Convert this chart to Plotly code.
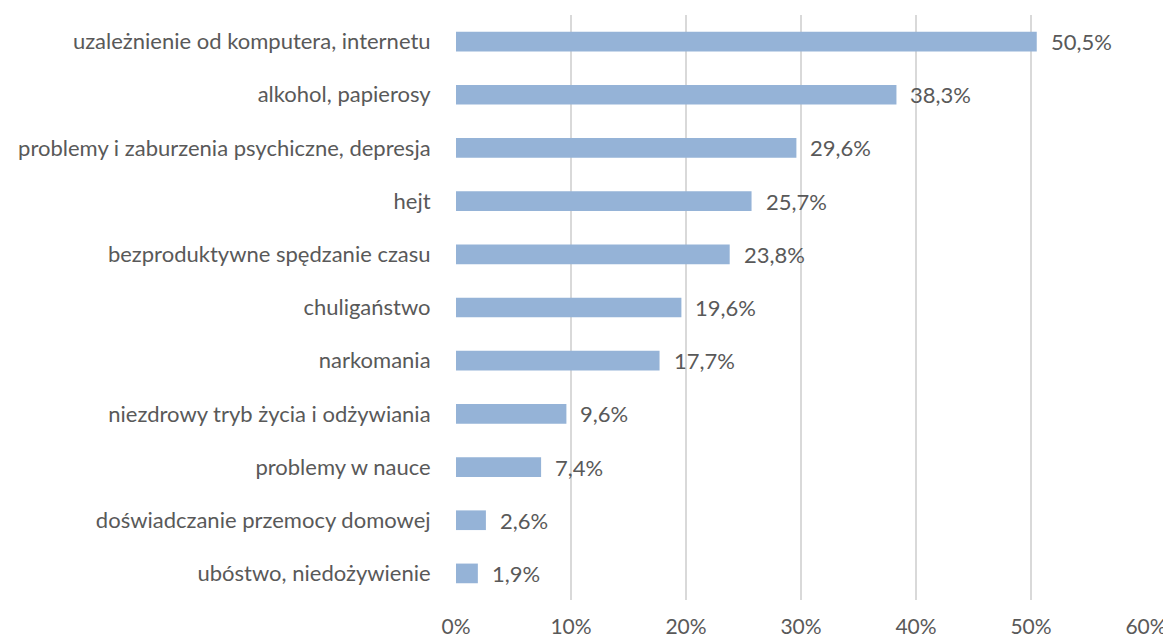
import plotly.graph_objects as go

categories = [
    "uzależnienie od komputera, internetu",
    "alkohol, papierosy",
    "problemy i zaburzenia psychiczne, depresja",
    "hejt",
    "bezproduktywne spędzanie czasu",
    "chuligaństwo",
    "narkomania",
    "niezdrowy tryb życia i odżywiania",
    "problemy w nauce",
    "doświadczanie przemocy domowej",
    "ubóstwo, niedożywienie",
]
values = [50.5, 38.3, 29.6, 25.7, 23.8, 19.6, 17.7, 9.6, 7.4, 2.6, 1.9]
tick_vals = [0, 10, 20, 30, 40, 50, 60]
tick_text = ["0%", "10%", "20%", "30%", "40%", "50%", "60%"]

FONT = "Lato"
TXT = "#595959"
FS = 22

fig = go.Figure()
fig.add_trace(go.Bar(
    y=categories,
    x=values,
    orientation="h",
    marker=dict(color="#95B3D7", line=dict(width=0)),
    width=0.37,
    hoverinfo="skip",
))

for c, v in zip(categories, values):
    fig.add_annotation(
        x=v, y=c, xref="x", yref="y",
        text=f"{v:.1f}".replace(".", ",") + "%",
        showarrow=False, xanchor="left", xshift=12,
        font=dict(family=FONT, size=FS, color=TXT),
    )

fig.update_layout(
    width=1171, height=641,
    margin=dict(l=448, r=33, t=7, b=49),
    paper_bgcolor="white", plot_bgcolor="white",
    bargap=0.63,
    showlegend=False,
    font=dict(family=FONT, size=FS, color=TXT),
    xaxis=dict(
        range=[0, 60],
        tickvals=tick_vals, ticktext=tick_text,
        showgrid=True, gridcolor="#d9d9d9", gridwidth=2,
        zeroline=False, showline=False,
        ticks="outside", ticklen=8, tickcolor="white",
        tickfont=dict(family=FONT, size=21, color=TXT),
        fixedrange=True, automargin=False,
    ),
    yaxis=dict(
        autorange="reversed",
        showgrid=False, zeroline=False, showline=False,
        ticks="outside", ticklen=20, tickcolor="white",
        tickfont=dict(family=FONT, size=FS, color=TXT),
        fixedrange=True, automargin=False,
    ),
)

fig.write_html("out.html")
